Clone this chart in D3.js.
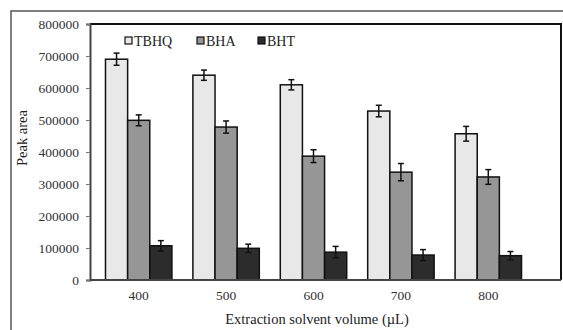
<!DOCTYPE html>
<html>
<head>
<meta charset="utf-8">
<script src="https://cdn.jsdelivr.net/npm/d3@7"></script>
<style>
  body { margin: 0; background: #fff; }
  text { font-family: "Liberation Serif", "DejaVu Serif", serif; }
</style>
</head>
<body>
<svg id="chart"></svg>
<script>
// chart values
const volumes = ['400', '500', '600', '700', '800'];
const seriesNames = ['TBHQ', 'BHA', 'BHT'];
const tbhq = [690000, 640000, 610000, 528000, 457000];
const bha = [499000, 478000, 387000, 337000, 322000];
const bht = [107000, 99000, 87000, 78000, 76000];
const tbhqErr = [19000, 16000, 16000, 18000, 23000];
const bhaErr = [17000, 19000, 20000, 27000, 23000];
const bhtErr = [16000, 13000, 18000, 17000, 13000];
const yTicks = [0, 100000, 200000, 300000, 400000, 500000, 600000, 700000, 800000];

const W = 563, H = 330;
const serif = '"Liberation Serif", "DejaVu Serif", serif';
const colors = ['#e8e8e8', '#969696', '#2c2c2c'];
const values = [tbhq, bha, bht];
const errs = [tbhqErr, bhaErr, bhtErr];

const svg = d3.select('#chart').attr('width', W).attr('height', H);

// outer frame
svg.append('rect')
  .attr('x', 11).attr('y', 11).attr('width', W + 10).attr('height', H + 10)
  .attr('fill', 'none').attr('stroke', '#555').attr('stroke-width', 1.5);

const plot = {left: 90, top: 24, right: 561, bottom: 280};

const x = d3.scaleBand().domain(volumes).range([95, 532]).paddingInner(0.24).paddingOuter(0.12);
const xs = d3.scaleBand().domain(seriesNames).range([0, x.bandwidth()]);
const y = d3.scaleLinear().domain([0, 800000]).range([plot.bottom, plot.top]);

// plot border (top + right)
svg.append('path')
  .attr('d', `M${plot.left},${plot.top}H${plot.right}V${plot.bottom}`)
  .attr('fill', 'none').attr('stroke', '#111').attr('stroke-width', 2);

// bars
const groups = svg.append('g');
seriesNames.forEach((s, si) => {
  const g = groups.append('g');
  volumes.forEach((v, i) => {
    const bx = x(v) + xs(s);
    g.append('rect')
      .attr('x', bx).attr('y', y(values[si][i]))
      .attr('width', xs.bandwidth()).attr('height', y(0) - y(values[si][i]))
      .attr('fill', colors[si]).attr('stroke', '#111').attr('stroke-width', 1.5);
  });
});

// error bars
seriesNames.forEach((s, si) => {
  volumes.forEach((v, i) => {
    const cx = x(v) + xs(s) + xs.bandwidth() / 2;
    const hi = y(values[si][i] + errs[si][i]);
    const lo = y(values[si][i] - errs[si][i]);
    const eb = svg.append('g').attr('stroke', '#111').attr('stroke-width', 1.5);
    eb.append('line').attr('x1', cx).attr('x2', cx).attr('y1', hi).attr('y2', lo);
    eb.append('line').attr('x1', cx - 3).attr('x2', cx + 3).attr('y1', hi).attr('y2', hi);
    eb.append('line').attr('x1', cx - 3).attr('x2', cx + 3).attr('y1', lo).attr('y2', lo);
  });
});

// y axis
const yAxis = d3.axisLeft(y).tickValues(yTicks).tickSize(4).tickPadding(7).tickFormat(d3.format('d'));
const ya = svg.append('g').attr('transform', `translate(${plot.left},0)`).call(yAxis);
ya.attr('font-family', serif);
ya.select('.domain').attr('stroke', '#444').attr('stroke-width', 2);
ya.selectAll('.tick line').attr('stroke', '#777');
ya.selectAll('.tick text').attr('fill', '#333').style('font-size', '13.5px').style('font-family', serif);

// x axis
const xAxis = d3.axisBottom(x).tickSize(0).tickPadding(10);
const xa = svg.append('g').attr('transform', `translate(0,${plot.bottom})`).call(xAxis);
xa.attr('font-family', serif);
xa.select('.domain').remove();
xa.append('line').attr('x1', plot.left).attr('x2', plot.right).attr('stroke', '#444').attr('stroke-width', 2);
xa.selectAll('.tick text').attr('fill', '#333').style('font-size', '13.5px').style('font-family', serif);

// axis titles
svg.append('text')
  .attr('transform', 'translate(27,138) rotate(-90)')
  .attr('text-anchor', 'middle').attr('fill', '#222').style('font-size', '14.5px')
  .text('Peak area');
svg.append('text')
  .attr('x', 317).attr('y', 324)
  .attr('text-anchor', 'middle').attr('fill', '#222').style('font-size', '14.5px')
  .text('Extraction solvent volume (µL)');

// legend
const legendX = [125, 197, 258];
seriesNames.forEach((s, si) => {
  const lg = svg.append('g').attr('transform', `translate(${legendX[si]},41)`);
  lg.append('rect').attr('x', 0).attr('y', -4).attr('width', 7).attr('height', 7)
    .attr('fill', colors[si]).attr('stroke', '#111').attr('stroke-width', 1.2);
  lg.append('text').attr('x', 9).attr('y', 4.5).attr('fill', '#222')
    .style('font-size', '14px').text(s);
});
</script>
</body>
</html>
